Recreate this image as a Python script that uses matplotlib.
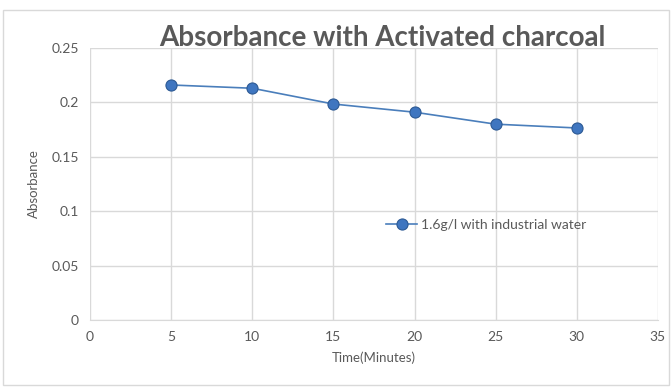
import matplotlib.pyplot as plt
from matplotlib.patches import Rectangle

time_min = [5, 10, 15, 20, 25, 30]
absorbance = [0.216, 0.213, 0.1985, 0.191, 0.180, 0.1765]
series_name = '1.6g/l with industrial water'

plt.rcParams['font.family'] = ['Lato', 'DejaVu Sans']

fig = plt.figure(figsize=(6.72, 3.87), dpi=100)
ax = fig.add_axes([0.134, 0.173, 0.845, 0.703])

ax.plot(time_min, absorbance, color='#4a7ebb', lw=1.2, marker='o', ms=8,
        markerfacecolor='#3f76c0', markeredgecolor='#2d5a94', markeredgewidth=0.8,
        label=series_name)

ax.set_xlim(0, 35)
ax.set_ylim(0, 0.25)
ax.set_xticks(range(0, 36, 5))
ax.set_yticks([0, 0.05, 0.1, 0.15, 0.2, 0.25])
ax.set_yticklabels(['0', '0.05', '0.1', '0.15', '0.2', '0.25'])
ax.grid(True, color='#d9d9d9', lw=1)
ax.set_axisbelow(True)
for side in ['top', 'right', 'left']:
    ax.spines[side].set_visible(False)
ax.spines['bottom'].set_color('#d9d9d9')
ax.tick_params(length=0, colors='#595959', labelsize=10, pad=8)
ax.set_xlabel('Time(Minutes)', fontsize=9.5, color='#595959', labelpad=6)
ax.set_ylabel('Absorbance', fontsize=9.5, color='#595959', labelpad=8)

fig.text(0.569, 0.902, 'Absorbance with Activated charcoal', ha='center', va='center',
         fontsize=20, fontweight='bold', color='#595959')

ax.legend(loc='center left', bbox_to_anchor=(0.5, 0.35), frameon=False,
          fontsize=10, labelcolor='#595959', handlelength=2.2, handletextpad=0.3)

fig.patches.append(Rectangle((0.005, 0.005), 0.99, 0.97, transform=fig.transFigure,
                             fill=False, edgecolor='#d9d9d9', lw=1))

fig.savefig('out.png', dpi=100)
